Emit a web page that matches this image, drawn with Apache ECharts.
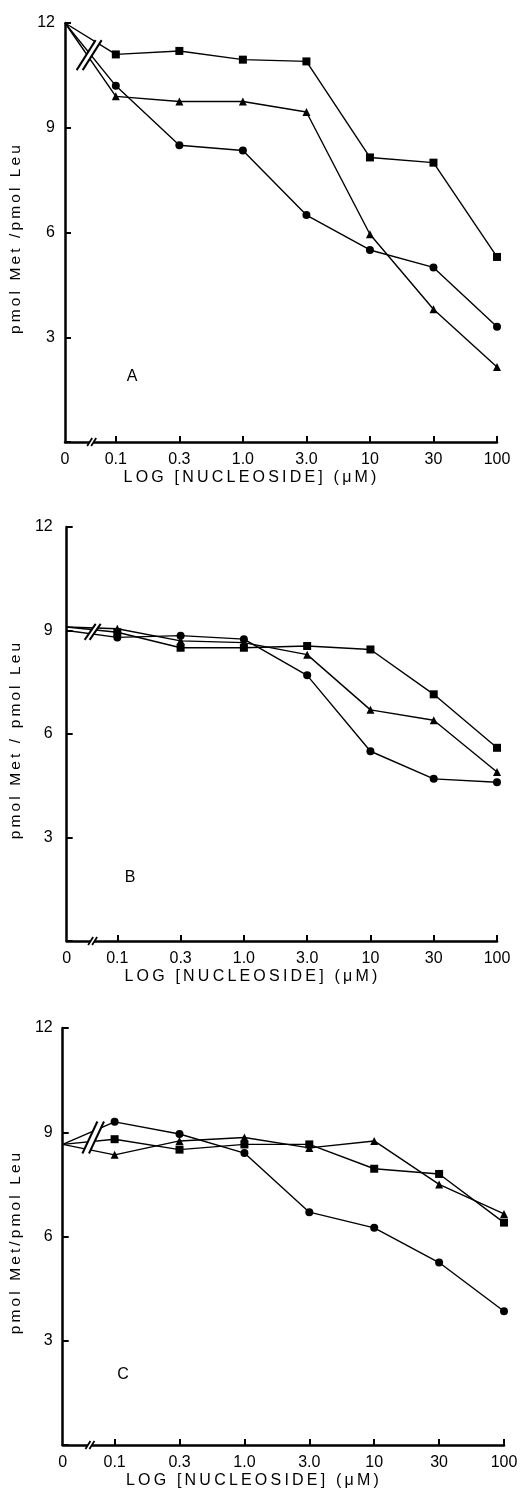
<!DOCTYPE html>
<html>
<head>
<meta charset="utf-8">
<script src="https://cdn.jsdelivr.net/npm/echarts@6/dist/echarts.min.js"></script>
<style>
  html, body { margin: 0; padding: 0; background: #fff; }
  #chart { width: 528px; height: 1492px; }
</style>
</head>
<body>
<div id="chart"></div>
<script>
// tick labels along the (broken) log axis
var xLabels = ['0', '0.1', '0.3', '1.0', '3.0', '10', '30', '100'];
var yTicks = [3, 6, 9, 12];

// panel A
var aSquare   = [12, 11.1, 11.2, 10.95, 10.9, 8.15, 8.0, 5.3];
var aTriangle = [12, 9.9, 9.75, 9.75, 9.45, 5.95, 3.8, 2.15];
var aCircle   = [12, 10.2, 8.5, 8.35, 6.5, 5.5, 5.0, 3.3];

// panel B
var bSquare   = [9.1, 8.95, 8.5, 8.5, 8.55, 8.45, 7.15, 5.6];
var bTriangle = [9.1, 9.05, 8.7, 8.65, 8.3, 6.7, 6.4, 4.9];
var bCircle   = [9.0, 8.8, 8.85, 8.75, 7.7, 5.5, 4.7, 4.6];

// panel C
var cSquare   = [8.65, 8.8, 8.5, 8.65, 8.65, 7.95, 7.8, 6.4];
var cTriangle = [8.65, 8.35, 8.75, 8.85, 8.55, 8.75, 7.5, 6.65];
var cCircle   = [8.65, 9.3, 8.95, 8.4, 6.7, 6.25, 5.25, 3.85];

var panelNames = ['A', 'B', 'C'];
var yTitles = ['pmol Met /pmol Leu', 'pmol Met / pmol Leu', 'pmol Met/pmol Leu'];
var xTitle = 'LOG [NUCLEOSIDE] (\u03bcM)';

// "0" sits on the axis, the log ticks start after the break
var xPos = xLabels.map(function (l, i) { return i === 0 ? 0 : i - 0.2; });

var FONT = '"Liberation Sans", Arial, sans-serif';
function spaced(s, sp) { return s.split('').join(sp || '\u2009'); }

var grids = [
  { left: 56, right: 31, top: 23, height: 419 },
  { left: 62, right: 31, top: 527, height: 414 },
  { left: 62, right: 24, top: 1028, height: 417 }
];
var yNameGap = [41, 36, 35];
var yLabelMargin = [10, 14, 10];

var xAxes = [], yAxes = [];
grids.forEach(function (g, i) {
  xAxes.push({
    gridIndex: i, type: 'value', min: 0, max: 6.8,
    name: spaced(xTitle), nameLocation: 'middle', nameGap: 28,
    nameTextStyle: { fontFamily: FONT, fontSize: 16, color: '#000', padding: [0, 62, 0, 0] },
    axisLine: { lineStyle: { color: '#000', width: 2.5 } },
    axisTick: { inside: true, length: 6, lineStyle: { width: 2, color: '#000' },
      customValues: xPos.slice(1) },
    axisLabel: { fontFamily: FONT, fontSize: 16, color: '#000', margin: 10,
      customValues: xPos,
      formatter: function (v) {
        for (var k = 0; k < xPos.length; k++) { if (Math.abs(xPos[k] - v) < 1e-6) return xLabels[k]; }
        return '';
      } },
    splitLine: { show: false }
  });
  yAxes.push({
    gridIndex: i, type: 'value', min: 0, max: 12, interval: 3,
    name: spaced(yTitles[i]), nameLocation: 'middle', nameGap: yNameGap[i], nameRotate: 90,
    nameTextStyle: { fontFamily: FONT, fontSize: 15.5, color: '#000', padding: [0, 14, 0, 0] },
    axisLine: { show: true, lineStyle: { color: '#000', width: 2.5 } },
    axisTick: { show: true, inside: true, length: 6, lineStyle: { width: 2, color: '#000' } },
    axisLabel: { fontFamily: FONT, fontSize: 16, color: '#000', margin: yLabelMargin[i],
      formatter: function (v) { return yTicks.indexOf(v) >= 0 ? String(v) : ''; } },
    splitLine: { show: false }
  });
});

function mkSeries(vals, gi, symbol, size) {
  return {
    type: 'line', xAxisIndex: gi, yAxisIndex: gi,
    symbol: symbol, symbolSize: size, z: 3,
    lineStyle: { color: '#000', width: 1.4 },
    itemStyle: { color: '#000' },
    data: vals.map(function (v, i) {
      return i === 0 ? { value: [xPos[i], v], symbol: 'none' } : [xPos[i], v];
    })
  };
}

var panels = [
  [aSquare, aTriangle, aCircle],
  [bSquare, bTriangle, bCircle],
  [cSquare, cTriangle, cCircle]
];
var series = [];
panels.forEach(function (p, gi) {
  series.push(mkSeries(p[0], gi, 'rect', 8));
  series.push(mkSeries(p[1], gi, 'triangle', 8));
  series.push(mkSeries(p[2], gi, 'circle', 8));
});

var chart = echarts.init(document.getElementById('chart'), null, { renderer: 'canvas' });
chart.setOption({
  backgroundColor: '#fff',
  animation: false,
  grid: grids,
  xAxis: xAxes,
  yAxis: yAxes,
  series: series
});

// break symbols ("//") on the curves and the x axis
function breakMark(gi, xv, yv, hdx, hdy, off, lw) {
  var c = chart.convertToPixel({ gridIndex: gi }, [xv, yv]);
  var cx = c[0], cy = c[1];
  var l1 = [cx - off - hdx, cy + hdy, cx - off + hdx, cy - hdy];
  var l2 = [cx + off - hdx, cy + hdy, cx + off + hdx, cy - hdy];
  return [
    { type: 'polygon', z: 100, silent: true,
      shape: { points: [[l1[0], l1[1]], [l1[2], l1[3]], [l2[2], l2[3]], [l2[0], l2[1]]] },
      style: { fill: '#fff' } },
    { type: 'line', z: 101, silent: true, shape: { x1: l1[0], y1: l1[1], x2: l1[2], y2: l1[3] },
      style: { stroke: '#000', lineWidth: lw } },
    { type: 'line', z: 101, silent: true, shape: { x1: l2[0], y1: l2[1], x2: l2[2], y2: l2[3] },
      style: { stroke: '#000', lineWidth: lw } }
  ];
}

var graphics = [];
graphics = graphics.concat(breakMark(0, 0.38, 11.08, 9.5, 15, 3, 2));
graphics = graphics.concat(breakMark(1, 0.41, 8.96, 5.5, 8, 2.5, 2));
graphics = graphics.concat(breakMark(2, 0.47, 8.85, 7.5, 16, 3.3, 2));
[0.42, 0.41, 0.42].forEach(function (xv, gi) {
  graphics = graphics.concat(breakMark(gi, xv, 0, 2.5, 4, 2, 1.8));
});

// panel letters
var letterPos = [[132, 377], [130, 878], [123, 1375]];
panelNames.forEach(function (n, i) {
  graphics.push({ type: 'text', z: 100, x: letterPos[i][0], y: letterPos[i][1],
    style: { text: n, fontFamily: FONT, fontSize: 16, fill: '#000', align: 'center', verticalAlign: 'middle' } });
});

chart.setOption({ graphic: graphics });
</script>
</body>
</html>
